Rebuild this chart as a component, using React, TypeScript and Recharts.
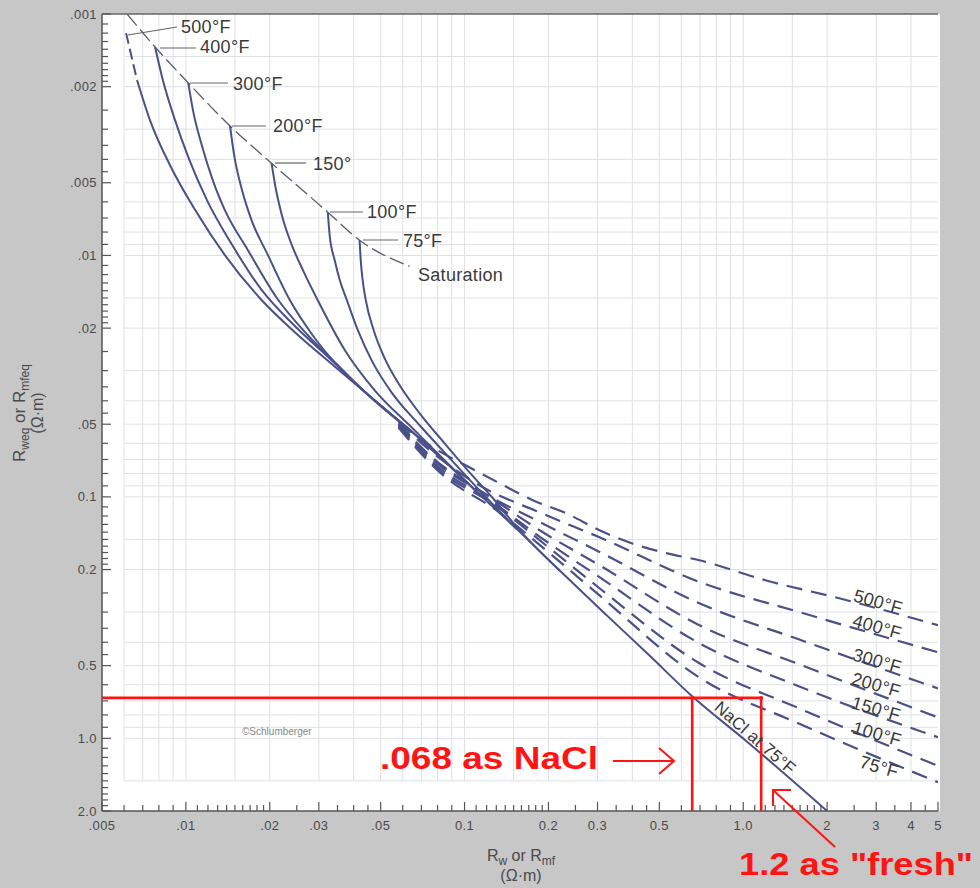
import { LineChart, Line, XAxis, YAxis, ReferenceLine, ReferenceDot } from 'recharts';

const font = '"Liberation Sans", Arial, Helvetica, sans-serif';
const ink = '#4a5189';
const red = '#ff1414';

// axis ticks
const xMajor = [0.005, 0.01, 0.02, 0.03, 0.05, 0.1, 0.2, 0.3, 0.5, 1, 2, 3, 4, 5];
const xMajorLabels = ['.005', '.01', '.02', '.03', '.05', '0.1', '0.2', '0.3', '0.5', '1.0', '2', '3', '4', '5'];
const xMinor = [
  0.006, 0.007, 0.008, 0.009,
  0.011, 0.012, 0.013, 0.014, 0.015, 0.016, 0.017, 0.018, 0.019, 0.025, 0.035, 0.04, 0.045,
  0.06, 0.07, 0.08, 0.09,
  0.11, 0.12, 0.13, 0.14, 0.15, 0.16, 0.17, 0.18, 0.19, 0.25, 0.35, 0.4, 0.45,
  0.6, 0.7, 0.8, 0.9,
  1.1, 1.2, 1.3, 1.4, 1.5, 1.6, 1.7, 1.8, 1.9, 2.5, 3.5, 4.5,
];
const yMajor = [0.001, 0.002, 0.005, 0.01, 0.02, 0.05, 0.1, 0.2, 0.5, 1, 2];
const yMajorLabels = ['.001', '.002', '.005', '.01', '.02', '.05', '0.1', '0.2', '0.5', '1.0', '2.0'];
const yMinor = [
  0.0011, 0.0012, 0.0013, 0.0014, 0.0015, 0.0016, 0.0017, 0.0018, 0.0019, 0.0025, 0.003, 0.0035, 0.004, 0.0045,
  0.006, 0.007, 0.008, 0.009,
  0.011, 0.012, 0.013, 0.014, 0.015, 0.016, 0.017, 0.018, 0.019, 0.025, 0.03, 0.035, 0.04, 0.045,
  0.06, 0.07, 0.08, 0.09,
  0.11, 0.12, 0.13, 0.14, 0.15, 0.16, 0.17, 0.18, 0.19, 0.25, 0.3, 0.35, 0.4, 0.45,
  0.6, 0.7, 0.8, 0.9,
  1.1, 1.2, 1.3, 1.4, 1.5, 1.6, 1.7, 1.8, 1.9,
];
const gridX = [0.006, 0.007, 0.008, 0.009, 0.01, 0.015, 0.02, 0.03, 0.04, 0.05, 0.06, 0.07, 0.08, 0.09, 0.1, 0.15, 0.2, 0.3, 0.4, 0.5, 0.6, 0.7, 0.8, 0.9, 1, 1.5, 2, 3, 4];
const gridY = [0.0015, 0.002, 0.003, 0.004, 0.005, 0.006, 0.007, 0.008, 0.009, 0.01, 0.015, 0.02, 0.03, 0.04, 0.05, 0.06, 0.07, 0.08, 0.09, 0.1, 0.15, 0.2, 0.3, 0.4, 0.5, 0.6, 0.7, 0.8, 0.9, 1, 1.5];

// saturation line
const satRw = [0.00615, 0.00775, 0.0102, 0.0144, 0.0203, 0.0323, 0.042, 0.0635];
const satReq = [0.001, 0.00137, 0.00193, 0.00291, 0.00415, 0.00662, 0.00865, 0.0111];

// NaCl curves (solid), one per temperature
const top500Rw = [0.0061, 0.00668];
const top500Req = [0.0012, 0.00188];
const sol500Rw = [0.00668, 0.00743, 0.00877, 0.0108, 0.0138, 0.0184, 0.0246, 0.0328, 0.0438, 0.0651];
const sol500Req = [0.00188, 0.00275, 0.00423, 0.00649, 0.00997, 0.015, 0.0208, 0.0277, 0.0367, 0.054];
const sol400Rw = [0.00775, 0.00827, 0.00914, 0.0103, 0.0119, 0.0147, 0.0187, 0.0246, 0.0328, 0.0438, 0.0651];
const sol400Req = [0.00137, 0.00188, 0.00275, 0.00403, 0.0059, 0.0091, 0.0139, 0.0196, 0.0267, 0.0367, 0.054];
const sol300Rw = [0.0102, 0.0106, 0.0114, 0.0125, 0.0138, 0.0167, 0.0212, 0.0274, 0.0351, 0.0438, 0.0651];
const sol300Req = [0.00193, 0.0025, 0.00349, 0.0049, 0.00649, 0.00951, 0.015, 0.0214, 0.0285, 0.0367, 0.054];
const sol200Rw = [0.0144, 0.0149, 0.0159, 0.0172, 0.0197, 0.0236, 0.0285, 0.0357, 0.0457, 0.0651, 0.0862];
const sol200Req = [0.00291, 0.00384, 0.00536, 0.00714, 0.00997, 0.0153, 0.0214, 0.0293, 0.0383, 0.054, 0.0726];
const sol150Rw = [0.0203, 0.0209, 0.0221, 0.024, 0.0263, 0.0297, 0.0372, 0.0476, 0.0651, 0.0862, 0.113];
const sol150Req = [0.00415, 0.00511, 0.00681, 0.00906, 0.0115, 0.0153, 0.0247, 0.0362, 0.052, 0.0719, 0.0975];
const sol100Rw = [0.0323, 0.0328, 0.0342, 0.0357, 0.0378, 0.0414, 0.0464, 0.0547, 0.069, 0.0884, 0.113, 0.154];
const sol100Req = [0.00662, 0.00824, 0.01046, 0.0127, 0.0153, 0.0204, 0.0272, 0.0369, 0.0505, 0.0691, 0.0939, 0.136];
const sol75Rw = [0.042, 0.0424, 0.0431, 0.0442, 0.0472, 0.0517, 0.0585, 0.069, 0.0848, 0.1042, 0.128, 0.154, 0.219];
const sol75Req = [0.00865, 0.01046, 0.0127, 0.0153, 0.0204, 0.0267, 0.0345, 0.0451, 0.06, 0.0791, 0.103, 0.1335, 0.2015];
const naclRw = [0.0651, 0.0862, 0.113, 0.154, 0.219, 0.305, 0.46, 0.656, 1.03, 2.0];
const naclReq = [0.054, 0.0726, 0.0975, 0.136, 0.2015, 0.29, 0.453, 0.67, 1.03, 2.0];

// average fresh formation water curves (dashed)
const fr500Rw = [0.058, 0.075, 0.104, 0.1335, 0.175, 0.232, 0.305, 0.4, 0.53, 0.696, 1.21, 2.21, 5];
const fr500Req = [0.0485, 0.0611, 0.0754, 0.0878, 0.103, 0.117, 0.1375, 0.156, 0.171, 0.183, 0.222, 0.263, 0.34];
const fr400Rw = [0.058, 0.075, 0.113, 0.186, 0.305, 0.696, 1.59, 5];
const fr400Req = [0.049, 0.0641, 0.0895, 0.116, 0.147, 0.225, 0.3, 0.44];
const fr300Rw = [0.058, 0.075, 0.113, 0.186, 0.305, 0.696, 1.59, 5];
const fr300Req = [0.0497, 0.0672, 0.0939, 0.127, 0.169, 0.276, 0.39, 0.621];
const fr200Rw = [0.058, 0.0814, 0.123, 0.186, 0.305, 0.696, 1.59, 5];
const fr200Req = [0.0502, 0.074, 0.1, 0.1375, 0.192, 0.34, 0.494, 0.819];
const fr150Rw = [0.058, 0.0814, 0.123, 0.1936, 0.305, 0.696, 1.59, 5];
const fr150Req = [0.0507, 0.0759, 0.103, 0.151, 0.215, 0.404, 0.61, 0.99];
const fr100Rw = [0.058, 0.0814, 0.128, 0.2018, 0.305, 0.696, 1.59, 5];
const fr100Req = [0.0512, 0.0776, 0.108, 0.163, 0.239, 0.489, 0.752, 1.3];
const fr75Rw = [0.058, 0.0814, 0.1335, 0.2018, 0.305, 0.696, 1.59, 5];
const fr75Req = [0.0517, 0.0791, 0.116, 0.171, 0.256, 0.56, 0.87, 1.52];

// worked example (red)
const exampleReq = 0.68;
const exampleNaclRw = 0.656;
const exampleFreshRw = 1.16;

const zip = (rw: number[], req: number[]) => rw.map((v, i) => ({ rw: v, req: req[i] }));

const solidSeries = [
  zip(sol500Rw, sol500Req), zip(sol400Rw, sol400Req), zip(sol300Rw, sol300Req), zip(sol200Rw, sol200Req),
  zip(sol150Rw, sol150Req), zip(sol100Rw, sol100Req), zip(sol75Rw, sol75Req), zip(naclRw, naclReq),
];
const freshSeries = [
  zip(fr500Rw, fr500Req), zip(fr400Rw, fr400Req), zip(fr300Rw, fr300Req), zip(fr200Rw, fr200Req),
  zip(fr150Rw, fr150Req), zip(fr100Rw, fr100Req), zip(fr75Rw, fr75Req),
];

const xTicks = [...xMajor, ...xMinor].sort((a, b) => a - b);
const yTicks = [...yMajor, ...yMinor].sort((a, b) => a - b);
const findMajor = (list: number[], v: number) => list.findIndex((m) => Math.abs(m - v) < m * 1e-6);

function YTick(props: any) {
  const { x, y, payload } = props;
  const i = findMajor(yMajor, payload.value);
  return (
    <g>
      <line x1={x} x2={x + (i >= 0 ? 9 : 6)} y1={y} y2={y} stroke="#555" strokeWidth={1.2} />
      {i >= 0 && (
        <text x={x - 5} y={y + 4.5} textAnchor="end" fontSize={13} fill="#4a4a4a" fontFamily={font} letterSpacing={0.4}>
          {yMajorLabels[i]}
        </text>
      )}
    </g>
  );
}

function XTick(props: any) {
  const { x, y, payload } = props;
  const i = findMajor(xMajor, payload.value);
  return (
    <g>
      <line x1={x} x2={x} y1={y} y2={y - (i >= 0 ? 9 : 6)} stroke="#555" strokeWidth={1.2} />
      {i >= 0 && (
        <text x={x} y={y + 19} textAnchor="middle" fontSize={13} fill="#4a4a4a" fontFamily={font} letterSpacing={0.4}>
          {xMajorLabels[i]}
        </text>
      )}
    </g>
  );
}

const topLabels = [
  { t: '500°F', lx1: 128, ly1: 35, lx2: 177, ly2: 27, tx: 181, ty: 33 },
  { t: '400°F', lx1: 160, ly1: 48, lx2: 196, ly2: 48, tx: 200, ty: 53 },
  { t: '300°F', lx1: 190, ly1: 83, lx2: 228, ly2: 83, tx: 233, ty: 90 },
  { t: '200°F', lx1: 232, ly1: 126, lx2: 266, ly2: 126, tx: 273, ty: 132 },
  { t: '150°', lx1: 275, ly1: 163, lx2: 306, ly2: 163, tx: 313, ty: 170 },
  { t: '100°F', lx1: 330, ly1: 212, lx2: 363, ly2: 212, tx: 367, ty: 218 },
  { t: '75°F', lx1: 363, ly1: 240, lx2: 398, ly2: 240, tx: 403, ty: 247 },
];
const rightLabels = [
  { t: '500°F', cx: 878, cy: 602 },
  { t: '400°F', cx: 877, cy: 627 },
  { t: '300°F', cx: 877, cy: 661 },
  { t: '200°F', cx: 876, cy: 685 },
  { t: '150°F', cx: 876, cy: 709 },
  { t: '100°F', cx: 877, cy: 734 },
  { t: '75°F', cx: 879, cy: 767 },
];

export default function App() {
  return (
    <div style={{ position: 'absolute', left: 0, top: 0, width: 980, height: 888, background: '#c7c7c7', overflow: 'hidden' }}>
      <div style={{ position: 'absolute', left: 102, top: 14, width: 838, height: 797, background: '#ffffff' }} />
      <div style={{ position: 'absolute', left: 0, top: 0 }}>
        <LineChart width={980} height={888} margin={{ top: 14, right: 42, bottom: 0, left: 0 }}>
          <XAxis
            type="number"
            dataKey="rw"
            scale="log"
            domain={[0.005, 5]}
            allowDataOverflow
            ticks={xTicks}
            interval={0}
            height={77}
            tickSize={0}
            tickMargin={0}
            tickLine={false}
            tick={(p: any) => <XTick {...p} />}
            axisLine={{ stroke: '#555', strokeWidth: 1.5 }}
          />
          <YAxis
            type="number"
            dataKey="req"
            scale="log"
            domain={[0.001, 2]}
            reversed
            allowDataOverflow
            ticks={yTicks}
            interval={0}
            width={102}
            tickSize={0}
            tickMargin={0}
            tickLine={false}
            tick={(p: any) => <YTick {...p} />}
            axisLine={{ stroke: '#555', strokeWidth: 1.5 }}
          />
          {gridX.map((v) => (
            <ReferenceLine key={'gx' + v} segment={[{ x: v, y: 0.001 }, { x: v, y: 1.5 }]} stroke="#dfe0e4" strokeWidth={1} />
          ))}
          {gridY.map((v) => (
            <ReferenceLine key={'gy' + v} segment={[{ x: 0.006, y: v }, { x: 5, y: v }]} stroke="#dfe0e4" strokeWidth={1} />
          ))}
          <ReferenceLine y={0.001} stroke="#666" strokeWidth={1.5} />

          <Line data={zip(satRw, satReq)} dataKey="req" type="monotone" stroke="#5b5d6e" strokeWidth={1.3} strokeDasharray="15 5" dot={false} activeDot={false} isAnimationActive={false} />
          <Line data={zip(top500Rw, top500Req)} dataKey="req" type="linear" stroke={ink} strokeWidth={2} strokeDasharray="11 5" dot={false} activeDot={false} isAnimationActive={false} />
          {solidSeries.map((d, i) => (
            <Line key={'s' + i} data={d} dataKey="req" type="monotone" stroke={ink} strokeWidth={2} dot={false} activeDot={false} isAnimationActive={false} />
          ))}
          {freshSeries.map((d, i) => (
            <Line key={'f' + i} data={d} dataKey="req" type="monotone" stroke={ink} strokeWidth={2.2} strokeDasharray="16 9" dot={false} activeDot={false} isAnimationActive={false} />
          ))}

          <ReferenceLine segment={[{ x: 0.005, y: exampleReq }, { x: exampleFreshRw, y: exampleReq }]} stroke={red} strokeWidth={2.6} />
          <ReferenceLine segment={[{ x: exampleNaclRw, y: exampleReq }, { x: exampleNaclRw, y: 2 }]} stroke={red} strokeWidth={2.6} />
          <ReferenceLine segment={[{ x: exampleFreshRw, y: exampleReq }, { x: exampleFreshRw, y: 2 }]} stroke={red} strokeWidth={2.6} />
          <ReferenceDot x={exampleNaclRw} y={exampleReq} r={2} fill={red} stroke="none" />
          <ReferenceDot x={exampleFreshRw} y={exampleReq} r={2} fill={red} stroke="none" />
        </LineChart>
      </div>
      <svg width={980} height={888} style={{ position: 'absolute', left: 0, top: 0, pointerEvents: 'none' }} fontFamily={font}>
        {topLabels.map((l) => (
          <g key={l.t}>
            <line x1={l.lx1} y1={l.ly1} x2={l.lx2} y2={l.ly2} stroke="#666" strokeWidth={1.2} />
            <text x={l.tx} y={l.ty} fontSize={18} fill="#3a3a3a" letterSpacing={0.3}>{l.t}</text>
          </g>
        ))}
        <text x={418} y={281} fontSize={18} fill="#3a3a3a" letterSpacing={0.3}>Saturation</text>
        {rightLabels.map((l) => (
          <text key={'r' + l.t} x={l.cx} y={l.cy} fontSize={18} fill="#3a3a3a" textAnchor="middle" dominantBaseline="central" transform={`rotate(16 ${l.cx} ${l.cy})`} letterSpacing={0.3}>
            {l.t}
          </text>
        ))}
        <text x={755} y={738} fontSize={17} fill="#3a3a3a" textAnchor="middle" dominantBaseline="central" transform="rotate(41 755 738)" letterSpacing={0.3}>
          NaCl at 75°F
        </text>
        <text x={242} y={735} fontSize={10} fill="#888">©Schlumberger</text>

        <text x={521} y={861} fontSize={16} fill="#4a4a4a" textAnchor="middle">
          R<tspan fontSize={12} dy={4}>w</tspan><tspan dy={-4}> or R</tspan><tspan fontSize={12} dy={4}>mf</tspan>
        </text>
        <text x={521} y={881} fontSize={16} fill="#4a4a4a" textAnchor="middle">(Ω·m)</text>
        <text x={25} y={413} fontSize={17} fill="#4a4a4a" textAnchor="middle" transform="rotate(-90 25 413)">
          R<tspan fontSize={12} dy={4}>weq</tspan><tspan dy={-4}> or R</tspan><tspan fontSize={12} dy={4}>mfeq</tspan>
        </text>
        <text x={43} y={413} fontSize={16} fill="#4a4a4a" textAnchor="middle" transform="rotate(-90 43 413)">(Ω·m)</text>

        <text x={380} y={769} fontSize={31} fontWeight="bold" fill={red} textLength={218} lengthAdjust="spacingAndGlyphs">.068 as NaCl</text>
        <line x1={613} y1={761} x2={674} y2={761} stroke={red} strokeWidth={2} />
        <polyline points="659,748 674,761 659,774" fill="none" stroke={red} strokeWidth={2} />
        <text x={739} y={875} fontSize={31} fontWeight="bold" fill={red} textLength={234} lengthAdjust="spacingAndGlyphs">1.2 as "fresh"</text>
        <line x1={835} y1={847} x2={773} y2={790} stroke={red} strokeWidth={2} />
        <polyline points="773,806 773,790 791,790" fill="none" stroke={red} strokeWidth={2} />
      </svg>
    </div>
  );
}
